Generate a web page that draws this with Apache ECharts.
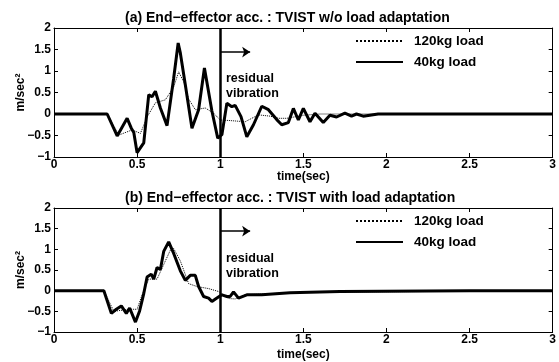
<!DOCTYPE html>
<html>
<head>
<meta charset="utf-8">
<script src="https://cdn.jsdelivr.net/npm/echarts@6/dist/echarts.min.js"></script>
<style>
  body { margin: 0; background: #fff; }
  #chart { width: 559px; height: 362px; }
</style>
</head>
<body>
<div id="chart"></div>
<script>
// (a) without load adaptation
const timeA40 = [0, 0.32, 0.38, 0.44, 0.465, 0.48, 0.50, 0.54, 0.57, 0.59, 0.61, 0.64, 0.68, 0.72, 0.747, 0.76, 0.79, 0.83, 0.87, 0.905, 0.95, 0.985, 1.01, 1.04, 1.07, 1.09, 1.125, 1.16, 1.2, 1.25, 1.29, 1.34, 1.37, 1.41, 1.44, 1.47, 1.50, 1.54, 1.57, 1.62, 1.66, 1.70, 1.75, 1.79, 1.82, 1.86, 1.95, 3.0];
const accA40  = [0, 0, -0.51, -0.1, -0.33, -0.43, -0.9, -0.67, 0.45, 0.4, 0.53, 0.14, -0.27, 0.83, 1.65, 1.42, 0.68, -0.33, 0.1, 1.07, 0.07, -0.56, -0.48, 0.25, 0.17, 0.2, -0.06, -0.53, -0.25, 0.18, 0.1, -0.13, -0.25, -0.2, 0.13, -0.14, 0.13, -0.18, 0.02, -0.2, -0.03, -0.07, 0.02, -0.05, 0, -0.05, 0, 0];
const timeA120 = [0, 0.32, 0.39, 0.47, 0.52, 0.56, 0.61, 0.67, 0.72, 0.75, 0.78, 0.81, 0.85, 0.91, 0.96, 1.0, 1.05, 1.15, 1.19, 1.23, 1.3, 1.35, 1.4, 1.5, 1.6, 3.0];
const accA120  = [0, 0, -0.49, -0.37, -0.45, -0.07, 0.26, 0.33, 0.63, 0.98, 0.75, 0.35, 0.1, 0.14, 0.02, -0.14, -0.15, -0.18, -0.1, -0.02, -0.05, -0.1, -0.1, -0.03, 0, 0];

// (b) with load adaptation
const timeB40 = [0, 0.30, 0.345, 0.375, 0.405, 0.435, 0.455, 0.49, 0.515, 0.54, 0.56, 0.585, 0.60, 0.62, 0.64, 0.66, 0.69, 0.72, 0.76, 0.79, 0.82, 0.85, 0.87, 0.90, 0.93, 0.95, 0.98, 1.01, 1.04, 1.06, 1.08, 1.11, 1.16, 1.25, 1.42, 1.72, 2.5, 3.0];
const accB40  = [0, 0, -0.55, -0.45, -0.37, -0.55, -0.42, -0.76, -0.49, -0.07, 0.33, 0.4, 0.28, 0.56, 0.51, 0.95, 1.18, 0.9, 0.48, 0.25, 0.37, 0.37, 0.1, -0.14, -0.18, -0.26, -0.18, -0.1, -0.14, -0.14, -0.03, -0.18, -0.1, -0.1, -0.05, -0.02, 0, 0];
const timeB120 = [0, 0.30, 0.36, 0.45, 0.5, 0.53, 0.57, 0.62, 0.67, 0.70, 0.72, 0.76, 0.81, 0.86, 0.93, 0.99, 1.05, 1.09, 1.15, 1.25, 1.5, 3.0];
const accB120  = [0, 0, -0.5, -0.45, -0.45, -0.1, 0.28, 0.28, 0.72, 0.98, 1.02, 0.72, 0.17, 0.1, 0.05, -0.02, -0.19, -0.2, -0.1, -0.08, -0.04, 0];

const titles = ['(a) End\u2212effector acc. : TVIST w/o load adaptation', '(b) End\u2212effector acc. : TVIST with load adaptation'];
const seriesNames = ['120kg load', '40kg load'];

function zip(t, v) { return t.map((x, i) => [x, v[i]]); }

const font = 'Liberation Sans, Arial, sans-serif';
const minus = v => String(v).replace('-', '\u2212');
const gridTops = [28, 208];

function xAx(g, pos) {
  return {
    gridIndex: g, type: 'value', min: 0, max: 3, interval: 0.5, position: pos,
    axisLine: { show: true, onZero: false, lineStyle: { color: '#000', width: 1 } },
    axisTick: { show: true, inside: true, length: 4, lineStyle: { color: '#000' } },
    axisLabel: { show: pos === 'bottom', color: '#000', fontSize: 12, fontWeight: 'bold', fontFamily: font, margin: 2 },
    splitLine: { show: false },
    name: pos === 'bottom' ? 'time(sec)' : '',
    nameLocation: 'middle', nameGap: g === 0 ? 14 : 17, nameMoveOverlap: false,
    nameTextStyle: { color: '#000', fontSize: 12, fontWeight: 'bold', fontFamily: font }
  };
}
function yAx(g, pos) {
  return {
    gridIndex: g, type: 'value', min: -1, max: 2, interval: 0.5, position: pos,
    axisLine: { show: true, onZero: false, lineStyle: { color: '#000', width: 1 } },
    axisTick: { show: true, inside: true, length: 4, lineStyle: { color: '#000' } },
    axisLabel: { show: pos === 'left', color: '#000', fontSize: 12, fontWeight: 'bold', fontFamily: font, margin: 3, formatter: minus },
    splitLine: { show: false },
    name: pos === 'left' ? 'm/sec\u00b2' : '',
    nameLocation: 'middle', nameGap: 27, nameRotate: 90, nameMoveOverlap: false,
    nameTextStyle: { color: '#000', fontSize: 12, fontWeight: 'bold', fontFamily: font }
  };
}

function lineSeries(g, name, t, v) {
  const dotted = name === seriesNames[0];
  const s = {
    name: name, type: 'line', xAxisIndex: g * 2, yAxisIndex: g * 2,
    data: zip(t, v), showSymbol: false, symbol: 'none',
    lineStyle: { color: '#000', width: dotted ? 1 : 3, type: dotted ? 'dotted' : 'solid' },
    itemStyle: { color: '#000' }, z: dotted ? 3 : 2
  };
  if (dotted) {
    s.markLine = {
      silent: true, symbol: ['none', 'arrow'], symbolSize: 8,
      lineStyle: { color: '#000', width: 1.5, type: 'solid' }, label: { show: false },
      data: [[{ coord: [1, 1.44] }, { coord: [1.18, 1.44] }]]
    };
  } else {
    s.markLine = {
      silent: true, symbol: 'none',
      lineStyle: { color: '#000', width: 2.5, type: 'solid' }, label: { show: false },
      data: [{ xAxis: 1 }]
    };
  }
  return s;
}

const chart = echarts.init(document.getElementById('chart'));
chart.setOption({
  animation: false,
  backgroundColor: '#fff',
  title: titles.map((t, i) => ({
    text: t, left: 120, top: gridTops[i] - 22,
    textStyle: { color: '#000', fontSize: 14, fontWeight: 'bold', fontFamily: font }
  })),
  legend: [0, 1].map(i => ({
    data: seriesNames, orient: 'vertical', left: 350, top: gridTops[i] + 1,
    itemWidth: 47, itemHeight: 14, itemGap: 7,
    itemStyle: { opacity: 0 },
    textStyle: { color: '#000', fontSize: 13.5, fontWeight: 'bold', fontFamily: font, padding: [0, 0, 0, 6] }
  })),
  grid: [
    { left: 54, top: gridTops[0], width: 503, height: 129, show: false },
    { left: 54, top: gridTops[1], width: 503, height: 128, show: false }
  ],
  xAxis: [xAx(0, 'bottom'), xAx(0, 'top'), xAx(1, 'bottom'), xAx(1, 'top')],
  yAxis: [yAx(0, 'left'), yAx(0, 'right'), yAx(1, 'left'), yAx(1, 'right')],
  graphic: gridTops.map(top => ({
    type: 'text', left: 226, top: top + 43,
    style: { text: 'residual\nvibration', fill: '#000', font: 'bold 12.5px ' + font, lineHeight: 15 }
  })),
  series: [
    lineSeries(0, seriesNames[0], timeA120, accA120),
    lineSeries(0, seriesNames[1], timeA40, accA40),
    lineSeries(1, seriesNames[0], timeB120, accB120),
    lineSeries(1, seriesNames[1], timeB40, accB40)
  ]
});
</script>
</body>
</html>
